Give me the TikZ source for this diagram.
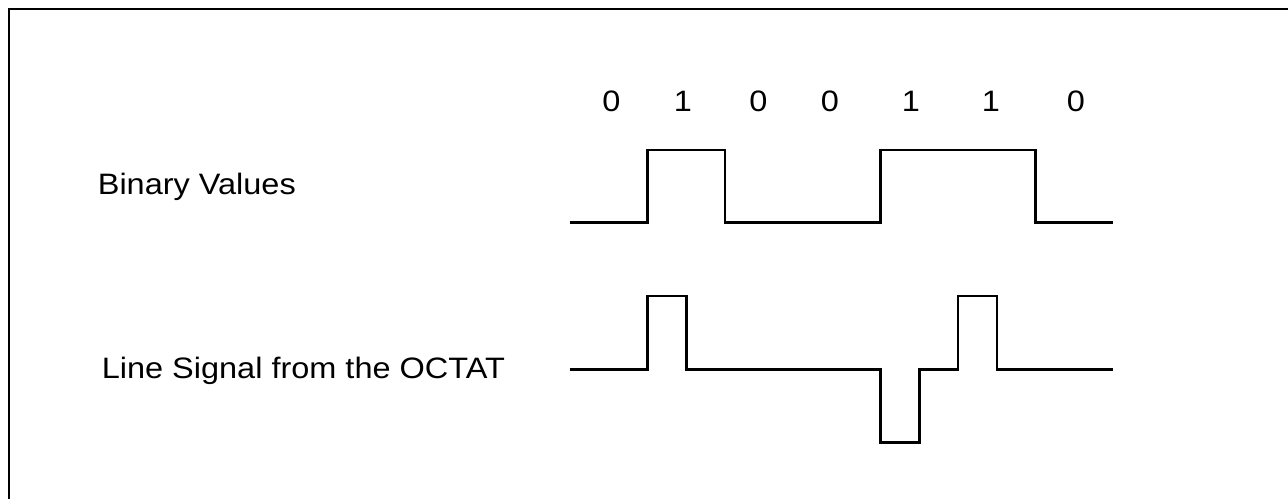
\documentclass[tikz,border=0pt]{standalone}
\usepackage{fontspec}
\setmainfont{Liberation Sans}[FakeStretch=1.1]
\begin{document}
\begin{tikzpicture}[>=latex,
  wave/.style={line width=1.2pt,line join=miter},
  lbl/.style={font=\fontsize{16.8}{20}\selectfont,inner sep=0pt},
  ]
  \clip (0,0) rectangle (25.76,9.96);
  % \draw[gray!50,step=0.5] (0,0) grid (26,10);
  \draw[line width=1.3pt] (0.18,-1) -- (0.18,9.78) -- (27,9.78);

  \node[lbl,anchor=base west] (binlbl) at (1.95,6.06) {Binary Values};
  \node[lbl,anchor=base west] (linelbl) at (2.03,2.38) {Line Signal from the OCTAT};
  \foreach \x/\b [count=\i] in {12.23/0,13.66/1,15.17/0,16.60/0,18.22/1,19.82/1,21.52/0}
  {
    \node[lbl,anchor=base] (bit\i) at (\x,7.73) {\b};
  }

  % binary values
  \draw[wave] (11.40,5.51) -- (12.95,5.51) -- (12.95,6.96) -- (14.50,6.96) -- (14.50,5.51)
  -- (17.61,5.51) -- (17.61,6.96) -- (20.71,6.96) -- (20.71,5.51) -- (22.26,5.51);
  % line signal
  \draw[wave] (11.40,2.57) -- (12.95,2.57) -- (12.95,4.04) -- (13.73,4.04) -- (13.73,2.57)
  -- (17.61,2.57) -- (17.61,1.11) -- (18.39,1.11) -- (18.39,2.57) -- (19.16,2.57)
  -- (19.16,4.04) -- (19.94,4.04) -- (19.94,2.57) -- (22.26,2.57);

\end{tikzpicture}
\end{document}
